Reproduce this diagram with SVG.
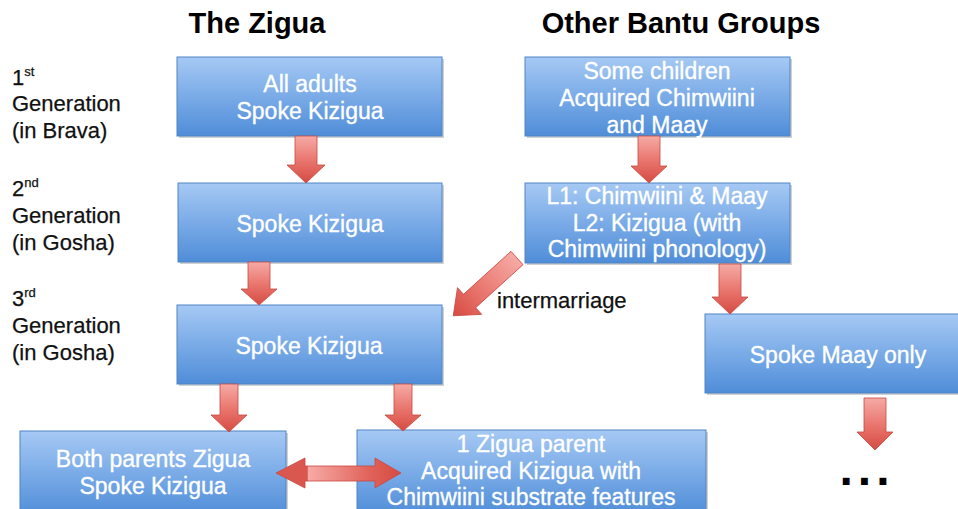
<svg xmlns="http://www.w3.org/2000/svg" width="958" height="509" viewBox="0 0 958 509">
<defs>
<linearGradient id="boxg" x1="0" y1="0" x2="0" y2="1">
<stop offset="0" stop-color="#a6c9f4"/>
<stop offset="0.5" stop-color="#7aabe7"/>
<stop offset="1" stop-color="#4f8dd8"/>
</linearGradient>
<linearGradient id="arrv" x1="0" y1="0" x2="0" y2="1">
<stop offset="0" stop-color="#f6aaa5"/>
<stop offset="0.55" stop-color="#e8736b"/>
<stop offset="1" stop-color="#d54b42"/>
</linearGradient>
<linearGradient id="arrl" x1="0" y1="0" x2="1" y2="0">
<stop offset="0" stop-color="#f6aaa5"/>
<stop offset="0.6" stop-color="#e8736b"/>
<stop offset="1" stop-color="#d54b42"/>
</linearGradient>
<linearGradient id="arrd" x1="0" y1="0" x2="1" y2="0">
<stop offset="0" stop-color="#d9574e"/>
<stop offset="0.25" stop-color="#d9574e"/>
<stop offset="0.26" stop-color="#f7aaa5"/>
<stop offset="0.75" stop-color="#e0625a"/>
<stop offset="1" stop-color="#d54b42"/>
</linearGradient>
</defs>
<style>
.box{fill:url(#boxg);stroke:#4f84c4;stroke-width:1}
.shadow{fill:#000;opacity:0.18}
.bt{font-family:"Liberation Sans",Arial,sans-serif;font-size:23px;fill:#ffffff;text-anchor:middle;stroke:#ffffff;stroke-width:0.35}
.lbl{font-family:"Liberation Sans",Arial,sans-serif;font-size:22px;fill:#111111;stroke:#111111;stroke-width:0.25}
.sup{font-size:13px}
.title{font-family:"Liberation Sans",Arial,sans-serif;font-size:29px;font-weight:bold;fill:#000;text-anchor:middle}
.arr{fill:url(#arrv);stroke:#c9473f;stroke-width:0.8}
</style>
<rect width="958" height="509" fill="#ffffff"/>

<text class="title" x="257" y="33">The Zigua</text>
<text class="title" x="681" y="33">Other Bantu Groups</text>

<g id="gen-labels">
<text class="lbl" x="12" y="85">1<tspan class="sup" dy="-9">st</tspan></text>
<text class="lbl" x="12" y="111">Generation</text>
<text class="lbl" x="12" y="138">(in Brava)</text>
<text class="lbl" x="12" y="196">2<tspan class="sup" dy="-9">nd</tspan></text>
<text class="lbl" x="12" y="223">Generation</text>
<text class="lbl" x="12" y="250">(in Gosha)</text>
<text class="lbl" x="12" y="306">3<tspan class="sup" dy="-9">rd</tspan></text>
<text class="lbl" x="12" y="333">Generation</text>
<text class="lbl" x="12" y="360">(in Gosha)</text>
</g>

<g id="zigua-gen1">
<rect class="shadow" x="179" y="59" width="265" height="79"/>
<rect class="box" x="177" y="57" width="265" height="79"/>
<text class="bt" x="310" y="92">All adults</text>
<text class="bt" x="310" y="119">Spoke Kizigua</text>
</g>
<g id="zigua-gen2">
<rect class="shadow" x="180" y="185" width="264" height="79"/>
<rect class="box" x="178" y="183" width="264" height="79"/>
<text class="bt" x="310" y="232">Spoke Kizigua</text>
</g>
<g id="zigua-gen3">
<rect class="shadow" x="179" y="307" width="265" height="79"/>
<rect class="box" x="177" y="305" width="265" height="79"/>
<text class="bt" x="309" y="354">Spoke Kizigua</text>
</g>
<g id="other-gen1">
<rect class="shadow" x="527" y="59" width="265" height="79"/>
<rect class="box" x="525" y="57" width="265" height="79"/>
<text class="bt" x="657" y="79">Some children</text>
<text class="bt" x="657" y="106">Acquired Chimwiini</text>
<text class="bt" x="657" y="133">and Maay</text>
</g>
<g id="other-gen2">
<rect class="shadow" x="527" y="185" width="265" height="80"/>
<rect class="box" x="525" y="183" width="265" height="80"/>
<text class="bt" x="657" y="204">L1: Chimwiini &amp; Maay</text>
<text class="bt" x="657" y="231">L2: Kizigua (with</text>
<text class="bt" x="657" y="257">Chimwiini phonology)</text>
</g>
<g id="maay-only">
<rect class="shadow" x="707" y="316" width="260" height="79"/>
<rect class="box" x="705" y="314" width="260" height="79"/>
<text class="bt" x="838" y="363">Spoke Maay only</text>
</g>
<g id="both-parents">
<rect class="shadow" x="22" y="433" width="266" height="85"/>
<rect class="box" x="20" y="431" width="266" height="85"/>
<text class="bt" x="153" y="467">Both parents Zigua</text>
<text class="bt" x="153" y="494">Spoke Kizigua</text>
</g>
<g id="one-parent">
<rect class="shadow" x="359" y="432" width="349" height="85"/>
<rect class="box" x="357" y="430" width="349" height="85"/>
<text class="bt" x="531" y="452">1 Zigua parent</text>
<text class="bt" x="531" y="479">Acquired Kizigua with</text>
<text class="bt" x="531" y="505">Chimwiini substrate features</text>
</g>

<g id="connectors">
<polygon class="arr" points="295,136 317,136 317,165 325,165 306,183 287,165 295,165"/>
<polygon class="arr" points="248,262 270,262 270,289 277,289 259,305 241,289 248,289"/>
<polygon class="arr" points="638,136 660,136 660,166 667,166 649,183 631,166 638,166"/>
<polygon class="arr" points="719,264 741,264 741,297 748,297 730,314 712,297 719,297"/>
<polygon class="arr" points="864,398 886,398 886,432 893,432 875,450 857,432 864,432"/>
<polygon class="arr" points="220,384 238,384 238,415 247,415 229,432 211,415 220,415"/>
<polygon class="arr" points="394,384 412,384 412,415 421,415 403,431 385,415 394,415"/>
<polygon fill="url(#arrl)" stroke="#c9473f" stroke-width="0.8" transform="translate(517,258) rotate(137.8)" points="0,-9 64,-9 64,-18 86,0 64,18 64,9 0,9"/>
<polygon fill="url(#arrd)" stroke="#c9473f" stroke-width="0.8" points="276,473 305,458 305,466 375,466 375,458 401,473 375,488 375,481 305,481 305,488"/>
<text class="lbl" x="497" y="308">intermarriage</text>
</g>

<text x="867" y="485" font-family="Liberation Sans,Arial,sans-serif" font-size="48" font-weight="bold" letter-spacing="5" text-anchor="middle" fill="#000">...</text>
</svg>
